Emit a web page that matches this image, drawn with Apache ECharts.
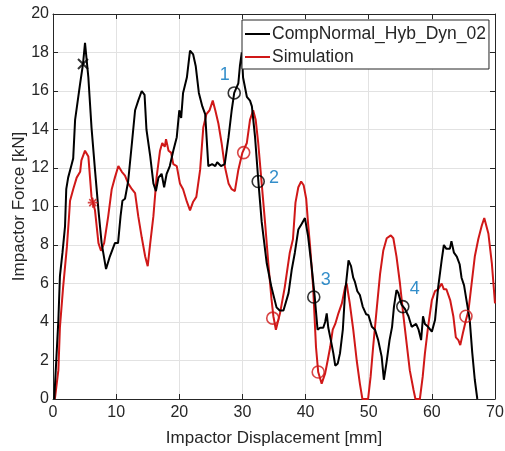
<!DOCTYPE html>
<html>
<head>
<meta charset="utf-8">
<script src="https://cdn.jsdelivr.net/npm/echarts@6/dist/echarts.min.js"></script>
<style>
  html, body { margin: 0; padding: 0; background: #ffffff; }
  #chart { width: 505px; height: 451px; }
</style>
</head>
<body>
<div id="chart"></div>
<script>
// Force–displacement curves: measured test vs. simulation
const expName = 'CompNormal_Hyb_Dyn_02';
const simName = 'Simulation';

const xTicks = [0, 10, 20, 30, 40, 50, 60, 70];
const yTicks = [0, 2, 4, 6, 8, 10, 12, 14, 16, 18, 20];

// [displacement mm, force kN]
const expCurve = [
  [0.2,0],[0.58,2.4],[0.85,4.1],[1.1,6.4],[1.5,7.6],[1.9,8.95],[2.1,10.9],[2.4,11.5],[2.96,12.2],[3.2,12.5],
  [3.5,14.5],[4.3,16.4],[4.75,17.4],[5.07,18.5],[5.6,16.7],[6.1,14.1],[6.65,11.9],[7.2,9.8],[7.7,8.1],[8.4,6.75],
  [9.0,7.4],[9.8,8.1],[10.3,8.1],[10.7,9.5],[11.0,10.3],[11.4,10.4],[11.9,11.3],[12.5,13.3],[13.0,15.0],[13.5,15.5],
  [14.05,16.0],[14.5,15.8],[14.8,14.0],[15.4,12.6],[15.9,11.2],[16.3,10.8],[16.7,11.5],[17.2,11.7],[17.6,11.0],[18.0,11.7],
  [18.5,12.1],[19.05,12.9],[19.6,13.6],[20.0,15.0],[20.3,14.6],[20.6,15.9],[21.2,16.7],[21.7,18.1],[22.2,17.9],[22.6,17.3],
  [23.1,15.9],[23.65,15.2],[24.1,14.8],[24.6,12.1],[25.2,12.2],[25.7,12.1],[26.0,12.3],[26.6,12.1],[27.2,12.2],[27.8,13.6],
  [28.3,15.0],[28.7,15.9],[29.35,16.4],[29.6,17.3],[29.9,18.0],[30.1,16.7],[30.7,15.7],[31.2,15.5],[31.5,15.2],[32.0,13.6],
  [32.5,11.4],[33.05,9.2],[33.85,7.05],[34.6,5.8],[35.4,4.76],[35.9,4.6],[36.2,4.7],[36.5,4.6],[37.3,5.5],[37.8,6.7],
  [38.3,7.6],[38.85,8.8],[39.4,9.1],[39.9,9.4],[40.4,8.45],[40.95,6.9],[41.45,5.3],[41.9,3.6],[42.3,3.7],[42.8,3.7],
  [43.1,4.0],[43.35,4.45],[43.6,3.7],[44.0,3.06],[44.4,2.37],[44.7,1.73],[45.1,1.85],[45.45,2.37],[45.9,3.6],[46.25,5.5],
  [46.8,7.2],[47.2,6.9],[47.55,6.3],[47.8,6.1],[48.2,5.6],[48.6,5.4],[49.05,4.8],[49.6,4.4],[49.95,4.36],[50.5,3.75],
  [51.0,3.6],[51.5,3.06],[52.05,2.2],[52.4,1.0],[52.8,1.85],[53.3,3.06],[53.7,3.75],[54.0,4.8],[54.4,5.66],[54.7,5.5],
  [55.2,4.9],[55.7,4.7],[56.3,4.3],[56.8,3.75],[57.1,3.75],[57.5,3.9],[57.9,3.6],[58.3,3.06],[58.6,4.3],[58.9,3.9],
  [59.4,3.75],[60.0,3.5],[60.5,4.1],[61.0,5.8],[61.55,7.2],[61.9,8.0],[62.3,7.8],[62.85,7.8],[63.1,8.2],[63.5,7.6],
  [63.95,7.4],[64.4,7.0],[64.7,6.3],[65.1,5.9],[65.5,5.1],[66.0,4.1],[66.4,2.4],[66.8,1.0],[67.2,0]
];

const simCurve = [
  [0.3,0],[0.85,1.5],[1.1,3.75],[1.6,5.8],[2.2,7.9],[2.5,9.3],[2.7,10.3],[3.2,10.9],[3.75,11.5],[4.3,11.8],
  [4.5,12.4],[5.07,12.9],[5.6,12.6],[6.1,10.5],[6.65,9.8],[7.2,8.1],[7.6,7.7],[8.1,8.1],[8.75,9.5],[9.3,10.9],
  [9.8,11.5],[10.35,12.1],[10.9,11.8],[11.4,11.6],[11.9,11.2],[12.5,10.9],[13.0,10.7],[13.5,9.5],[14.05,8.4],[14.6,7.4],
  [15.0,6.9],[15.4,8.1],[15.9,9.5],[16.4,11.5],[16.95,12.9],[17.3,13.3],[17.7,13.1],[17.9,13.5],[18.3,12.9],[18.7,12.8],
  [19.05,12.2],[19.6,12.1],[20.1,11.2],[20.6,10.9],[21.2,10.25],[21.7,9.8],[22.2,10.25],[22.7,10.5],[23.3,11.9],[23.8,14.1],
  [24.3,14.8],[24.8,15.0],[25.3,15.5],[25.7,15.0],[26.2,14.3],[26.7,13.3],[27.2,12.1],[27.8,11.2],[28.3,10.9],[28.8,10.8],
  [29.35,11.9],[30.0,12.8],[30.7,13.3],[31.2,14.5],[31.7,15.0],[32.1,14.5],[32.5,13.3],[33.05,11.2],[33.6,9.1],[34.1,7.05],
  [34.6,5.2],[34.9,4.3],[35.3,3.6],[35.95,4.45],[36.7,5.8],[37.5,7.6],[38.0,8.3],[38.4,10.2],[38.85,11.0],[39.3,11.3],
  [39.7,11.1],[40.1,10.4],[40.4,9.1],[40.7,8.0],[41.2,5.8],[41.65,2.7],[42.0,1.4],[42.55,0.8],[43.1,1.33],[43.5,2.0],
  [43.9,2.7],[44.3,3.6],[44.7,3.9],[45.2,4.45],[45.75,4.97],[46.25,5.8],[46.5,6.0],[47.0,4.97],[47.55,3.6],[48.1,2.0],
  [48.6,0.8],[49.0,0],[49.9,0],[50.3,1.16],[50.7,2.7],[51.3,4.8],[51.8,6.5],[52.3,7.7],[52.85,8.35],[53.5,8.5],
  [53.9,8.35],[54.4,7.4],[54.95,6.0],[55.5,4.3],[56.0,2.9],[56.5,1.5],[57.1,0.47],[57.4,0],[58.1,0],[58.55,1.16],
  [58.9,2.37],[59.4,3.75],[60.0,5.14],[60.5,5.6],[61.0,5.7],[61.55,6.0],[61.9,5.7],[62.3,5.7],[62.9,5.14],[63.4,4.3],
  [63.8,3.2],[64.2,3.06],[64.5,2.8],[64.9,3.4],[65.4,4.1],[65.8,4.6],[66.3,6.0],[66.8,7.4],[67.35,8.3],[67.9,9.0],
  [68.3,9.4],[68.95,8.6],[69.5,7.05],[70.0,4.97]
];

// peak markers
const expPeak = [[4.75, 17.4]];
const simPeak = [[6.3, 10.2]];

// numbered comparison points
const expPoints = [[28.7, 15.9], [32.5, 11.3], [41.3, 5.3], [55.4, 4.8]];
const simPoints = [[30.2, 12.8], [34.8, 4.2], [42.0, 1.4], [65.4, 4.3]];
const pointNames = ['1', '2', '3', '4'];
const pointNamePos = [[27.2, 16.85], [35.0, 11.5], [43.2, 6.2], [57.3, 5.7]];

const FONT = '"Liberation Sans", Arial, Helvetica, sans-serif';
const AXIS_COLOR = '#262626';
const BLACK = '#000000';
const RED = '#d01818';
const BLUE = '#0072BD';

const chart = echarts.init(document.getElementById('chart'), null, { renderer: 'canvas' });

const tickStyle = { show: true, inside: true, length: 5, lineStyle: { color: AXIS_COLOR, width: 1 } };
const lineStyleAxis = { show: true, onZero: false, lineStyle: { color: AXIS_COLOR, width: 1 } };

const ringStyle = (c) => ({ color: 'rgba(0,0,0,0)', borderColor: c, borderWidth: 1.6 });

chart.setOption({
  backgroundColor: '#ffffff',
  animation: false,
  textStyle: { fontFamily: FONT },
  grid: { left: 53, right: 10, top: 14, bottom: 52, containLabel: false, outerBoundsMode: 'none' },
  legend: {
    data: [
      { name: expName, icon: 'rect' },
      { name: simName, icon: 'rect' }
    ],
    orient: 'vertical',
    left: 242,
    top: 20,
    itemWidth: 25,
    itemHeight: 2,
    itemGap: 5,
    padding: [5, 3, 3, 3],
    backgroundColor: '#ffffff',
    borderColor: AXIS_COLOR,
    borderWidth: 1,
    borderRadius: 0,
    textStyle: { fontFamily: FONT, fontSize: 17.5, color: AXIS_COLOR, padding: [0, 0, 0, -3] },
    selectedMode: false
  },
  xAxis: [
    {
      type: 'value', min: xTicks[0], max: xTicks[xTicks.length - 1], interval: 10,
      name: 'Impactor Displacement [mm]', nameLocation: 'middle', nameGap: 31, nameMoveOverlap: false,
      nameTextStyle: { fontFamily: FONT, fontSize: 17, color: AXIS_COLOR },
      axisLine: lineStyleAxis, axisTick: tickStyle,
      axisLabel: { fontFamily: FONT, fontSize: 16, color: AXIS_COLOR, margin: 6 },
      splitLine: { show: true, lineStyle: { color: '#e2e2e2', width: 1 } }
    },
    {
      type: 'value', position: 'top', min: 0, max: 70, interval: 10,
      axisLine: lineStyleAxis, axisTick: tickStyle, axisLabel: { show: false }, splitLine: { show: false }
    }
  ],
  yAxis: [
    {
      type: 'value', min: yTicks[0], max: yTicks[yTicks.length - 1], interval: 2,
      name: 'Impactor Force [kN]', nameLocation: 'middle', nameGap: 25, nameMoveOverlap: false,
      nameTextStyle: { fontFamily: FONT, fontSize: 17, color: AXIS_COLOR },
      axisLine: lineStyleAxis, axisTick: tickStyle,
      axisLabel: { fontFamily: FONT, fontSize: 16, color: AXIS_COLOR, margin: 4 },
      splitLine: { show: true, lineStyle: { color: '#e2e2e2', width: 1 } }
    },
    {
      type: 'value', position: 'right', min: 0, max: 20, interval: 2,
      axisLine: lineStyleAxis, axisTick: tickStyle, axisLabel: { show: false }, splitLine: { show: false }
    }
  ],
  series: [
    {
      name: expName, type: 'line', data: expCurve, showSymbol: false, symbol: 'none',
      lineStyle: { color: BLACK, width: 2 }, itemStyle: { color: BLACK }, z: 3, silent: true
    },
    {
      name: simName, type: 'line', data: simCurve, showSymbol: false, symbol: 'none',
      lineStyle: { color: RED, width: 2 }, itemStyle: { color: RED }, z: 2, silent: true
    },
    {
      name: 'expPeak', type: 'scatter', data: expPeak, symbol: 'path://M0,0L10,10M10,0L0,10',
      symbolSize: 10, itemStyle: { color: 'rgba(0,0,0,0)', borderColor: BLACK, borderWidth: 2 }, z: 5, silent: true
    },
    {
      name: 'simPeak', type: 'scatter', data: simPeak,
      symbol: 'path://M5,0L5,10M0,5L10,5M1.5,1.5L8.5,8.5M8.5,1.5L1.5,8.5',
      symbolSize: 10, itemStyle: ringStyle(RED), z: 5, silent: true
    },
    {
      name: 'expPoints', type: 'scatter', data: expPoints, symbol: 'circle', symbolSize: 12,
      itemStyle: ringStyle(BLACK), z: 5, silent: true
    },
    {
      name: 'simPoints', type: 'scatter', data: simPoints, symbol: 'circle', symbolSize: 12,
      itemStyle: ringStyle(RED), z: 5, silent: true
    },
    {
      name: 'pointNames', type: 'scatter', symbol: 'circle', symbolSize: 1,
      itemStyle: { color: 'rgba(0,0,0,0)' }, z: 6, silent: true,
      data: pointNamePos.map((p, i) => ({ value: p, name: pointNames[i] })),
      label: {
        show: true, position: 'inside', formatter: '{b}',
        fontFamily: FONT, fontSize: 18, color: BLUE
      }
    }
  ]
});
</script>
</body>
</html>
